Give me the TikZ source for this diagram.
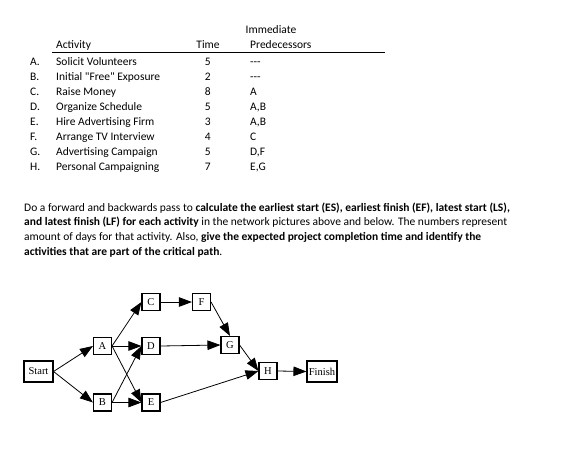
\documentclass[tikz,border=0pt]{standalone}
\usepackage{fontspec}
\setmainfont{Carlito}
\newfontfamily\netfont{Liberation Serif}
\usetikzlibrary{arrows.meta}
\tikzset{
  txt/.style={inner sep=0pt, anchor=base west, font=\fontsize{11.5}{15}\selectfont},
  txtc/.style={inner sep=0pt, anchor=base, font=\fontsize{11.5}{15}\selectfont},
  box/.style={draw, line width=1.1pt, inner sep=0pt, minimum width=18pt, minimum height=17pt, font=\netfont\fontsize{10.5}{12}\selectfont},
  widebox/.style={box, minimum width=30pt, minimum height=21pt},
  conn/.style={line width=0.8pt, -{Triangle[length=13pt,width=9.5pt]}}
}
\begin{document}
\begin{tikzpicture}[x=1pt,y=-1pt]
\useasboundingbox[fill=white] (0,0) rectangle (566,461);
% table header
\node[txtc] (hImm) at (271,33.3) {Immediate};
\node[txt] (hAct) at (56,48.5) {Activity};
\node[txtc] (hTime) at (208,48.5) {Time};
\node[txt] (hPred) at (250,48.5) {Predecessors};
\draw[line width=1pt] (52,52.3) -- (385,52.3);
% rows
\foreach \i/\l/\n/\t/\p in {0/A/Solicit Volunteers/5/{-}{-}{-},
  1/B/{Initial \textquotedbl Free\textquotedbl{} Exposure}/2/{-}{-}{-},
  2/C/Raise Money/8/A,
  3/D/Organize Schedule/5/{A,B},
  4/E/Hire Advertising Firm/3/{A,B},
  5/F/Arrange TV Interview/4/C,
  6/G/Advertising Campaign/5/{D,F},
  7/H/Personal Campaigning/7/{E,G}}{
  \node[txt] (l\l) at (30,65+15.1*\i) {\l.};
  \node[txt] (n\l) at (56,65+15.1*\i) {\n};
  \node[txtc] (t\l) at (207.7,65+15.1*\i) {\t};
  \node[txt] (p\l) at (250,65+15.1*\i) {\p};
}
% paragraph
\node[txt] (p1) at (24,211) {Do a forward and backwards pass to \textbf{calculate the earliest start (ES), earliest finish (EF), latest start (LS),}};
\node[txt] (p2) at (24,225.7) {\textbf{and latest finish (LF) for each activity} in the network pictures above and below. The numbers represent};
\node[txt] (p3) at (24,240.3) {amount of days for that activity. Also, \textbf{give the expected project completion time and identify the}};
\node[txt] (p4) at (24,255) {\textbf{activities that are part of the critical path}.};
% network
\node[widebox, minimum width=29pt] (Start) at (38.5,371.5) {Start};
\node[box] (A) at (102.5,346) {A};
\node[box] (B) at (102.5,402.5) {B};
\node[box] (C) at (151,302) {C};
\node[box] (D) at (151,346) {D};
\node[box] (E) at (151,402.5) {E};
\node[box] (F) at (201.5,302) {F};
\node[box] (G) at (230,345) {G};
\node[box] (H) at (268,371) {H};
\node[widebox] (Finish) at (322,371.5) {Finish};
\draw[conn] (Start.east) -- (A.west);
\draw[conn] (Start.east) -- (B.west);
\draw[conn] (A.east) -- (C.west);
\draw[conn] (A.east) -- (D.west);
\draw[conn] (A.east) -- (E.west);
\draw[conn] (B.east) -- (D.west);
\draw[conn] (B.east) -- (E.west);
\draw[conn] (C.east) -- (F.west);
\draw[conn] (F.east) -- (G.north);
\draw[conn] (D.east) -- (G.west);
\draw[conn] (G.east) -- (H.west);
\draw[conn] (E.east) -- (H.west);
\draw[conn] (H.east) -- (Finish.west);
\end{tikzpicture}
\end{document}
